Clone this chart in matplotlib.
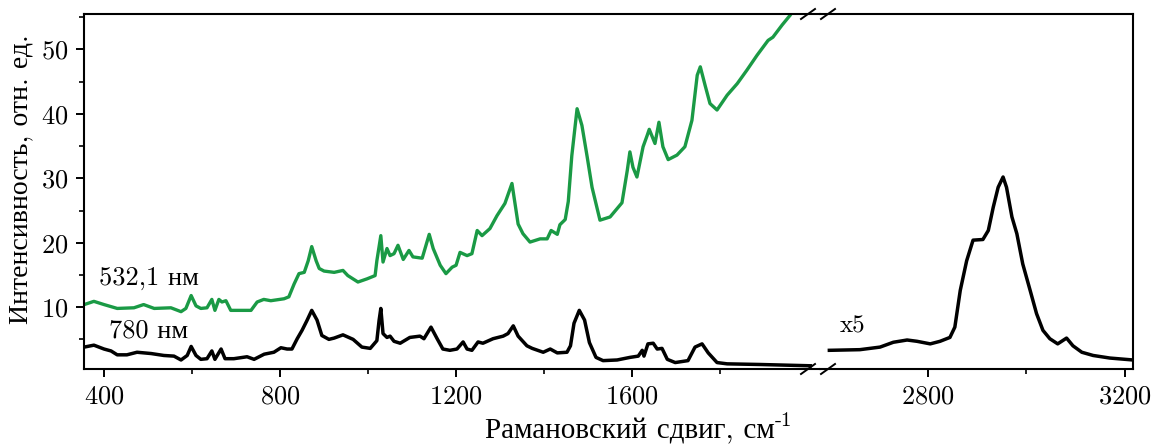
import matplotlib
matplotlib.use("Agg")
import matplotlib.pyplot as plt
from matplotlib.ticker import FixedLocator, NullLocator

plt.rcParams['font.family'] = ['cmr10', 'Liberation Serif']
plt.rcParams['axes.formatter.use_mathtext'] = True
plt.rcParams['mathtext.fontset'] = 'cm'

# 532,1 nm spectrum (green)
g_x = [355, 377, 400, 430, 468, 490, 514, 552, 575, 586, 598, 609, 620, 634, 645, 652,
       661, 668, 677, 688, 711, 734, 748, 763, 779, 809, 820, 832, 843, 855, 864, 872,
       882, 889, 900, 923, 943, 954, 977, 998, 1016, 1020, 1029, 1034, 1043, 1050, 1059,
       1068, 1080, 1093, 1102, 1123, 1139, 1148, 1164, 1177, 1191, 1200, 1209, 1225,
       1236, 1248, 1259, 1277, 1293, 1311, 1327, 1341, 1352, 1368, 1391, 1407, 1416,
       1430, 1436, 1448, 1455, 1463, 1475, 1486, 1498, 1509, 1527, 1550, 1577, 1589,
       1595, 1602, 1611, 1625, 1634, 1639, 1652, 1661, 1670, 1682, 1702, 1720, 1736,
       1748, 1755, 1766, 1777, 1793, 1816, 1839, 1861, 1884, 1909, 1920, 1941, 1959, 1975]
g_y = [10.4, 10.9, 10.4, 9.8, 9.9, 10.4, 9.8, 9.9, 9.3, 9.8, 11.8, 10.2, 9.8, 9.9, 11.2, 9.5,
       11.2, 10.8, 11.0, 9.5, 9.5, 9.5, 10.8, 11.2, 11.0, 11.3, 11.6, 13.6, 15.2, 15.4, 17.2, 19.4,
       17.2, 16.0, 15.6, 15.4, 15.7, 14.9, 13.9, 14.4, 14.9, 17.2, 21.1, 17.0, 19.1, 18.0, 18.3,
       19.6, 17.4, 18.8, 17.8, 17.6, 21.3, 19.1, 16.5, 15.2, 16.2, 16.5, 18.5, 18.0,
       18.3, 21.9, 21.1, 22.2, 24.2, 26.1, 29.2, 22.9, 21.4, 20.1, 20.6, 20.6, 21.9,
       21.3, 22.8, 23.6, 26.4, 33.5, 40.8, 38.2, 33.3, 28.6, 23.5, 24.0, 26.2, 31.2,
       34.1, 31.7, 30.2, 34.9, 36.6, 37.6, 35.4, 38.7, 34.9, 32.9, 33.6, 34.9, 39.0,
       46.0, 47.3, 44.4, 41.6, 40.6, 42.9, 44.7, 46.8, 49.1, 51.4, 51.9, 53.8, 55.3, 57.0]

# 780 nm spectrum (black), fingerprint region
k_x = [355, 377, 400, 416, 430, 452, 475, 507, 536, 559, 575, 589, 598, 609, 620, 634, 645,
       652, 666, 675, 695, 725, 741, 764, 786, 802, 816, 827, 839, 850, 861, 872, 884, 895,
       911, 923, 943, 966, 986, 1005, 1020, 1025, 1029, 1034, 1043, 1050, 1059, 1073, 1095,
       1118, 1127, 1143, 1157, 1170, 1186, 1202, 1216, 1225, 1236, 1250, 1261, 1284, 1307,
       1318, 1330, 1341, 1361, 1373, 1398, 1414, 1430, 1452, 1460, 1468, 1480, 1492, 1503,
       1518, 1534, 1566, 1595, 1614, 1623, 1627, 1636, 1648, 1657, 1668, 1680, 1698, 1727,
       1743, 1759, 1773, 1793, 1816, 1891, 2005]
k_y = [3.8, 4.1, 3.5, 3.2, 2.6, 2.6, 3.0, 2.8, 2.5, 2.4, 1.8, 2.5, 3.9, 2.5, 1.9, 2.0, 3.2,
       1.9, 3.5, 2.0, 2.0, 2.3, 1.9, 2.7, 3.0, 3.7, 3.5, 3.5, 5.1, 6.4, 7.9, 9.5, 8.0, 5.6,
       5.0, 5.2, 5.7, 5.0, 3.8, 3.6, 4.8, 7.9, 9.8, 5.9, 5.3, 5.5, 4.7, 4.4, 5.3,
       5.5, 5.1, 6.9, 5.1, 3.5, 3.3, 3.5, 4.6, 3.5, 3.3, 4.6, 4.4, 5.1, 5.5,
       5.9, 7.1, 5.5, 4.0, 3.6, 3.0, 3.5, 2.9, 3.0, 4.0, 7.5, 9.5, 8.0, 4.5,
       2.2, 1.7, 1.8, 2.2, 2.4, 3.3, 2.4, 4.3, 4.4, 3.5, 3.6, 1.9, 1.4, 1.7,
       3.8, 4.3, 2.9, 1.4, 1.2, 1.1, 0.9]

# 780 nm spectrum, C-H region (x5)
h_x = [2600, 2662, 2703, 2730, 2758, 2778, 2805, 2825, 2845, 2855, 2866, 2879, 2892, 2912,
       2923, 2933, 2943, 2953, 2960, 2971, 2981, 2993, 3008, 3021, 3034, 3048, 3064, 3082,
       3095, 3113, 3136, 3170, 3217]
h_y = [3.3, 3.4, 3.8, 4.55, 4.9, 4.7, 4.3, 4.7, 5.3, 6.9, 12.6, 17.2, 20.4, 20.5,
       21.9, 25.5, 28.6, 30.2, 28.6, 24.0, 21.4, 16.7, 12.6, 9.0, 6.4, 5.1, 4.3, 5.2,
       4.0, 3.0, 2.5, 2.1, 1.8]

W, H = 1157, 446
fig = plt.figure(figsize=(W / 100, H / 100), dpi=100)
x0, xb, x1 = 84 / W, 820 / W, 1133 / W
y0, y1 = 1 - 369 / H, 1 - 14 / H
ax1 = fig.add_axes([x0, y0, xb - x0, y1 - y0])
ax2 = fig.add_axes([xb, y0, x1 - xb, y1 - y0])

green = '#1a9a45'
ax1.plot(g_x, g_y, color=green, lw=2.4)
ax1.plot(k_x, k_y, color='black', lw=2.5)
ax2.plot(h_x, h_y, color='black', lw=2.5)

for ax in (ax1, ax2):
    ax.set_ylim(0.4, 55.5)
    for s in ax.spines.values():
        s.set_linewidth(1.5)
    ax.tick_params(which='major', direction='out', length=6, width=1.4, labelsize=19, pad=5)
    ax.tick_params(which='minor', direction='out', length=3.5, width=1.2)

ax1.set_xlim(354.5, 2027)
ax1.xaxis.set_major_locator(FixedLocator([400, 800, 1200, 1600]))
ax1.xaxis.set_minor_locator(FixedLocator([600, 1000, 1400, 1800]))
ax1.yaxis.set_major_locator(FixedLocator([10, 20, 30, 40, 50]))
ax1.yaxis.set_minor_locator(FixedLocator([5, 15, 25, 35, 45, 55]))
ax1.spines['right'].set_visible(False)

ax2.set_xlim(2581, 3217)
ax2.xaxis.set_major_locator(FixedLocator([2800, 3200]))
ax2.xaxis.set_minor_locator(FixedLocator([3000]))
ax2.yaxis.set_major_locator(NullLocator())
ax2.yaxis.set_minor_locator(NullLocator())
ax2.spines['left'].set_visible(False)

# break marks
for cx in (808, 828):
    for cy in (14, 369):
        fig.add_artist(plt.Line2D([(cx - 7) / W, (cx + 7) / W],
                                  [1 - (cy + 5) / H, 1 - (cy - 5) / H],
                                  color='black', lw=1.4))

ax1.text(389, 13.5, '532,1 нм', fontsize=19, va='baseline')
ax1.text(411, 5.3, '780 нм', fontsize=19, va='baseline')
ax2.text(2622, 6.1, 'x5', fontsize=18, va='baseline')

fig.text(20 / W, 1 - 179 / H, 'Интенсивность, отн. ед.', rotation=90,
         ha='center', va='center', fontsize=20)
xl = fig.text(485 / W, 1 - 438 / H, 'Рамановский сдвиг, см', ha='left',
              va='baseline', fontsize=21)
ax1.annotate('-1', xy=(1.0, 0.55), xycoords=xl, ha='left', va='bottom',
             fontsize=15, annotation_clip=False)

fig.savefig('out.png', dpi=100)
